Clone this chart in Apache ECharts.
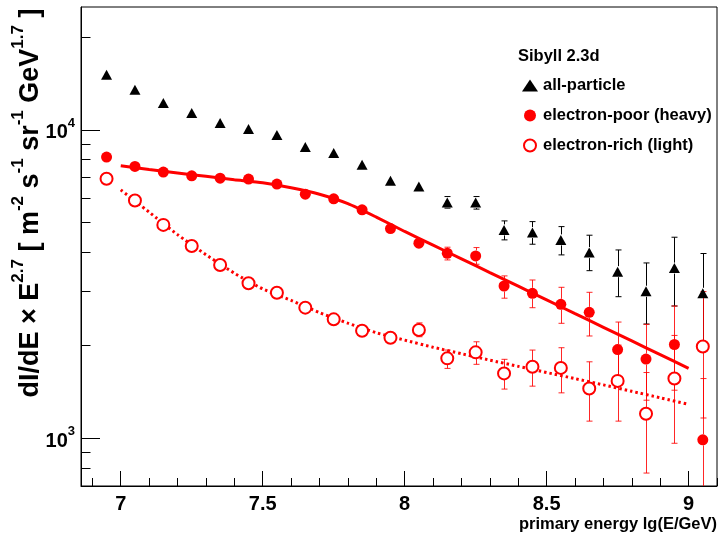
<!DOCTYPE html>
<html><head><meta charset="utf-8">
<script src="https://cdn.jsdelivr.net/npm/echarts@6/dist/echarts.min.js"></script>
<style>html,body{margin:0;padding:0;background:#fff}#c{width:720px;height:543px}</style>
</head><body><div id="c"></div>
<script>
// ---- data ----
const energy = [6.95,7.05,7.15,7.25,7.35,7.45,7.55,7.65,7.75,7.85,7.95,8.05,8.15,8.25,8.35,8.45,8.55,8.65,8.75,8.85,8.95,9.05];
const allParticle = [15090,13490,12210,11330,10510,10050,9610,8785,8400,7698,6830,6546,5807,5807,4735,4642,4395,3997,3467,2995,3560,2950];
const allHi = [null,null,null,null,null,null,null,null,null,null,null,null,6074,6074,5064,5038,4853,4551,4077,3700,4483,3970];
const allLo = [null,null,null,null,null,null,null,null,null,null,null,null,5570,5530,4395,4255,3929,3493,2876,2345,2683,1997];
const heavy = [8153,7602,7291,7088,6968,6918,6664,6183,5970,5500,4783,4287,3978,3899,3115,2950,2718,2559,1938,1806,2013,988];
const heavyHi = [null,null,null,null,null,null,null,null,null,null,null,null,4161,4150,3359,3258,3085,2972,2380,2340,2683,1561];
const heavyLo = [null,null,null,null,null,null,null,null,null,null,null,null,3784,3664,2844,2649,2358,2145,1566,1328,1431,400];
const light = [6934,5895,4916,4201,3645,3180,2963,2650,2429,2231,2117,2242,1815,1898,1622,1704,1690,1450,1534,1201,1561,1982];
const lightHi = [null,null,null,null,null,null,null,null,null,null,null,2365,1931,2054,1802,1931,1965,1769,2004,1633,2154,2988];
const lightLo = [null,null,null,null,null,null,null,null,null,null,null,2133,1684,1736,1443,1475,1403,1136,1136,771,963,1163];
const fitX = [7.0,7.1,7.2,7.3,7.4,7.5,7.6,7.7,7.8,7.9,8.0,8.1,8.2,8.3,8.4,8.5,8.6,8.7,8.8,8.9,9.0];
const heavyFitY = [7640,7430,7244,7063,6887,6730,6486,6180,5760,5210,4680,4225,3815,3444,3110,2808,2535,2289,2067,1866,1685];
const lightFitY = [6383,5408,4571,3936,3428,3048,2799,2553,2360,2198,2080,1972,1879,1791,1710,1633,1560,1489,1419,1352,1288];
const xMajorTicks = [7,7.5,8,8.5,9];
const xMinorTicks = [6.9,7.1,7.2,7.3,7.4,7.6,7.7,7.8,7.9,8.1,8.2,8.3,8.4,8.6,8.7,8.8,8.9,9.1];
const yMajorTicks = [1000,10000];
const yMinorTicks = [800,900,2000,3000,4000,5000,6000,7000,8000,9000,20000];
const seriesNames = ['all-particle','electron-poor (heavy)','electron-rich (light)'];
const legendTitle = 'Sibyll 2.3d';

// ---- build ----
const FONT = '"Liberation Sans", Arial, Helvetica, sans-serif';
const pairs = (xs, ys) => xs.map((x,i)=>[x, ys[i]]);
function errData(vals, lo, hi){
  const out=[];
  energy.forEach((x,i)=>{ if(lo[i]!=null && hi[i]!=null) out.push([x, lo[i], hi[i], vals[i]]); });
  return out;
}
function errSeries(data, color){
  return {
    type:'custom', data, clip:true, z:1, silent:true,
    encode:{x:0,y:[1,2,3]},
    renderItem:(params, api)=>{
      const x=api.value(0), lo=api.value(1), hi=api.value(2), v=api.value(3);
      const c=api.coord([x,v]), pH=api.coord([x,hi]), pL=api.coord([x,lo]);
      const r=5.5, cw=3, px=Math.round(c[0])+0.5;
      const st={stroke:color, lineWidth:1};
      const ch=[];
      if(pH[1] < c[1]-r){
        ch.push({type:'line',shape:{x1:px,y1:pH[1],x2:px,y2:c[1]-r},style:st});
        ch.push({type:'line',shape:{x1:px-cw,y1:pH[1],x2:px+cw,y2:pH[1]},style:st});
      }
      if(pL[1] > c[1]+r){
        ch.push({type:'line',shape:{x1:px,y1:c[1]+r,x2:px,y2:pL[1]},style:st});
        ch.push({type:'line',shape:{x1:px-cw,y1:pL[1],x2:px+cw,y2:pL[1]},style:st});
      }
      return {type:'group', children:ch};
    }
  };
}

const chart = echarts.init(document.getElementById('c'), null, {renderer:'canvas'});
const xCommon = {type:'value', min:6.86, max:9.1, splitLine:{show:false}};
const yCommon = {type:'log', logBase:10, min:700, max:25000, splitLine:{show:false}};
chart.setOption({
  animation:false,
  backgroundColor:'#fff',
  textStyle:{fontFamily:FONT},
  grid:{left:81, right:3, top:7, bottom:57, show:true, borderColor:'#000', borderWidth:1, backgroundColor:'transparent'},
  xAxis:[
    Object.assign({}, xCommon, {position:'bottom',
      axisLine:{lineStyle:{color:'#000'}},
      axisTick:{inside:true, length:15, customValues:xMajorTicks, lineStyle:{color:'#000'}},
      axisLabel:{customValues:xMajorTicks, margin:8, color:'#000', fontSize:20, fontWeight:'bold', fontFamily:FONT}
    }),
    Object.assign({}, xCommon, {position:'bottom',
      axisLine:{show:false},
      axisTick:{inside:true, length:8, customValues:xMinorTicks, lineStyle:{color:'#000'}},
      axisLabel:{show:false}
    })
  ],
  yAxis:[
    Object.assign({}, yCommon, {position:'left',
      axisLine:{show:true, lineStyle:{color:'#000'}},
      axisTick:{show:true, inside:true, length:19, customValues:yMajorTicks, lineStyle:{color:'#000'}},
      axisLabel:{customValues:yMajorTicks, margin:6, color:'#000',
        formatter:v=>'{b|10}{s|'+Math.round(Math.log10(v))+'}',
        rich:{b:{fontSize:20,fontWeight:'bold',fontFamily:FONT,color:'#000',verticalAlign:'bottom',lineHeight:26},
              s:{fontSize:13,fontWeight:'bold',fontFamily:FONT,color:'#000',verticalAlign:'top',lineHeight:13}}}
    }),
    Object.assign({}, yCommon, {position:'left',
      axisLine:{show:false},
      axisTick:{show:true, inside:true, length:9.5, customValues:yMinorTicks, lineStyle:{color:'#000'}},
      axisLabel:{show:false}
    })
  ],
  legend:{
    orient:'vertical', left:517, top:72, itemWidth:16, itemHeight:12, itemGap:13,
    textStyle:{fontSize:16.5, fontWeight:'bold', fontFamily:FONT, color:'#000', lineHeight:14},
    data:[{name:seriesNames[0], icon:'triangle'},{name:seriesNames[1], icon:'circle'},{name:seriesNames[2], icon:'emptyCircle'}]
  },
  graphic:[
    {type:'text', left:518, top:48, style:{text:legendTitle, font:'bold 16.5px '+FONT, fill:'#000'}},
    {type:'text', x:717, y:524, style:{text:'primary energy lg(E/GeV)', font:'bold 16.5px '+FONT, fill:'#000', align:'right', verticalAlign:'middle'}},
    {type:'text', x:27, y:203, rotation:Math.PI/2,
      style:{text:'{a|dI/dE × E}{s|2.7}{a| [ m}{s|-2}{a| s}{s|-1}{a| sr}{s|-1}{a| GeV}{s|1.7}{a| ]}',
        align:'center', verticalAlign:'middle', fill:'#000',
        rich:{a:{fontSize:27,fontWeight:'bold',fontFamily:FONT,fill:'#000',verticalAlign:'bottom',lineHeight:34},
              s:{fontSize:17,fontWeight:'bold',fontFamily:FONT,fill:'#000',verticalAlign:'top',lineHeight:17}}}}
  ],
  series:[
    errSeries(errData(allParticle, allLo, allHi), '#000'),
    errSeries(errData(heavy, heavyLo, heavyHi), 'rgba(255,0,0,0.85)'),
    errSeries(errData(light, lightLo, lightHi), 'rgba(255,0,0,0.85)'),
    {type:'line', data:pairs(fitX, heavyFitY), smooth:0.2, showSymbol:false, symbol:'none', silent:true, z:2,
      lineStyle:{color:'#f00', width:3}},
    {type:'line', data:pairs(fitX, lightFitY), smooth:0.2, showSymbol:false, symbol:'none', silent:true, z:2,
      lineStyle:{color:'#f00', width:3, type:[2.5,3]}},
    {name:seriesNames[0], type:'scatter', data:pairs(energy, allParticle), symbol:'triangle', symbolSize:[11,10], z:3,
      itemStyle:{color:'#000', opacity:1}},
    {name:seriesNames[1], type:'scatter', data:pairs(energy, heavy), symbol:'circle', symbolSize:11, z:3,
      itemStyle:{color:'#f00', opacity:1}},
    {name:seriesNames[2], type:'scatter', data:pairs(energy, light), symbol:'emptyCircle', symbolSize:12, z:3,
      itemStyle:{color:'#f00', borderColor:'#f00', borderWidth:1.3, opacity:1}}
  ]
});
</script>
</body></html>
